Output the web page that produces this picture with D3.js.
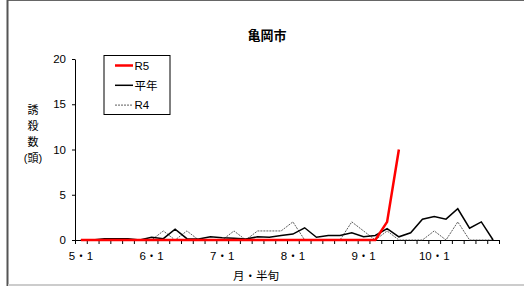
<!DOCTYPE html>
<html>
<head>
<meta charset="utf-8">
<script src="https://cdn.jsdelivr.net/npm/d3@7"></script>
<style>
  body { margin: 0; background: #fff; }
  svg { display: block; font-family: "Liberation Sans", "Noto Sans CJK JP", sans-serif; }
</style>
</head>
<body>
<script>
  // 半旬 (5-day periods), May 1 .. Oct 6
  const months = ["5", "6", "7", "8", "9", "10"];
  const monthLabels = ["5・1", "6・1", "7・1", "8・1", "9・1", "10・1"];
  const periods = d3.range(36);

  const r5 = [0, 0, 0, 0, 0, 0, 0, 0, 0, 0, 0, 0, 0, 0, 0, 0, 0, 0, 0, 0, 0, 0, 0, 0, 0, 0, 2, 10];
  const heinen = [0, 0, 0.15, 0.15, 0.15, 0, 0.3, 0.15, 1.2, 0.15, 0.1, 0.35, 0.25, 0.2, 0.1, 0.35, 0.3, 0.5,
    0.65, 1.35, 0.3, 0.5, 0.5, 0.8, 0.35, 0.5, 1.25, 0.35, 0.8, 2.3, 2.6, 2.3, 3.45, 1.3, 2.0, 0];
  const r4 = [0, 0, 0, 0, 0, 0, 0, 1, 0, 1, 0, 0, 0, 1, 0, 1, 1, 1,
    2, 0, 0, 0, 0, 2, 1, 0, 1, 0, 0, 0, 1, 0, 2, 0, 0, 0];
  const yTicks = [0, 5, 10, 15, 20];

  const W = 524, H = 286;
  const svg = d3.select("body").append("svg").attr("width", W).attr("height", H);

  // frame
  svg.append("line").attr("x1", 7.5).attr("x2", W).attr("y1", 0.5).attr("y2", 0.5).attr("stroke", "#666");
  svg.append("line").attr("x1", 7.5).attr("x2", 7.5).attr("y1", 0).attr("y2", 286).attr("stroke", "#555").attr("stroke-width", 2);
  svg.append("line").attr("x1", 8).attr("x2", W).attr("y1", 285).attr("y2", 285).attr("stroke", "#ccc").attr("stroke-width", 2);

  const x = d3.scaleBand().domain(periods).range([75, 499]);
  const xEdge = d3.scaleLinear().domain([0, 36]).range([75, 499]);
  const y = d3.scaleLinear().domain([0, 20]).range([240, 59]);
  const cx = i => x(i) + x.bandwidth() / 2;

  // y axis
  const ya = svg.append("g").attr("transform", "translate(75,0)")
    .call(d3.axisLeft(y).tickValues(yTicks).tickSize(3).tickSizeOuter(0).tickPadding(6));
  ya.selectAll("text").attr("font-size", "11.5px").attr("font-family", null).attr("fill", "#000");
  ya.selectAll("line, path").attr("stroke", "#000");

  // x axis
  const xa = svg.append("g").attr("transform", "translate(0,240)")
    .call(d3.axisBottom(xEdge).tickValues(d3.range(37)).tickFormat("").tickSize(4).tickSizeOuter(0));
  xa.selectAll("line, path").attr("stroke", "#000");

  svg.append("g").selectAll("text").data(monthLabels).join("text")
    .attr("x", (d, i) => cx(i * 6))
    .attr("y", 260)
    .attr("text-anchor", "middle")
    .attr("font-size", "11.5px")
    .text(d => d);

  // titles
  svg.append("text").attr("x", 267).attr("y", 40).attr("text-anchor", "middle")
    .attr("font-size", "13px").attr("font-weight", "bold").text("亀岡市");
  svg.append("text").attr("x", 256).attr("y", 280).attr("text-anchor", "middle")
    .attr("font-size", "11.5px").text("月・半旬");
  svg.append("g").selectAll("text").data(["誘", "殺", "数", "(頭)"]).join("text")
    .attr("x", 33).attr("y", (d, i) => 114 + i * 16)
    .attr("text-anchor", "middle").attr("font-size", "11px")
    .text(d => d);

  // lines
  const line = d3.line().x((d, i) => cx(i)).y(d => y(d));
  svg.append("path").datum(r4).attr("d", line).attr("fill", "none")
    .attr("stroke", "#333").attr("stroke-width", 0.8).attr("stroke-dasharray", "2,1");
  svg.append("path").datum(heinen).attr("d", line).attr("fill", "none")
    .attr("stroke", "#000").attr("stroke-width", 1.5);
  svg.append("path").datum(r5).attr("d", line).attr("fill", "none")
    .attr("stroke", "#ff0000").attr("stroke-width", 2.5);

  // legend
  const leg = svg.append("g").attr("transform", "translate(104,55.5)");
  leg.append("rect").attr("width", 66).attr("height", 59).attr("fill", "#fff").attr("stroke", "#000");
  const legItems = [
    { name: "R5", color: "#ff0000", w: 2.5, dash: null },
    { name: "平年", color: "#000", w: 1.5, dash: null },
    { name: "R4", color: "#333", w: 0.8, dash: "2,1" }
  ];
  const li = leg.selectAll("g").data(legItems).join("g")
    .attr("transform", (d, i) => `translate(0,${10 + i * 19.8})`);
  li.append("line").attr("x1", 11).attr("x2", 29).attr("stroke", d => d.color)
    .attr("stroke-width", d => d.w).attr("stroke-dasharray", d => d.dash);
  li.append("text").attr("x", 30.5).attr("y", 4.2).attr("font-size", "11.5px").text(d => d.name);
</script>
</body>
</html>
